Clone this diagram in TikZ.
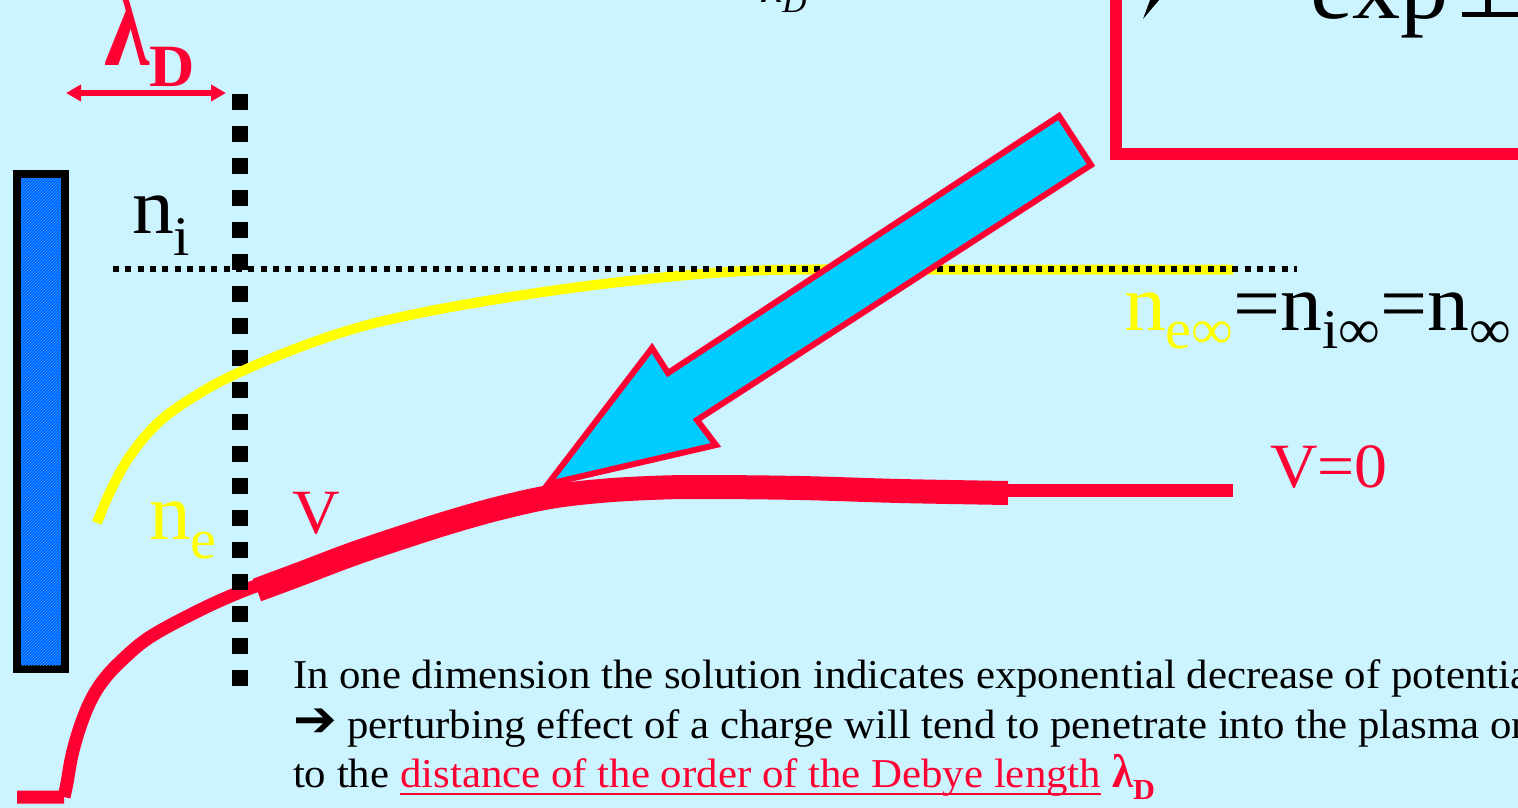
\documentclass[tikz,border=0pt]{standalone}
\usepackage{fontspec}
\setmainfont{Liberation Serif}[FakeStretch=1.045]
\newfontfamily\dejavu{DejaVu Sans}[FakeStretch=1.045]
\usetikzlibrary{arrows.meta,patterns}
\definecolor{bgc}{RGB}{204,244,255}
\definecolor{redc}{RGB}{255,0,51}
\definecolor{yelc}{RGB}{255,255,0}
\definecolor{arrc}{RGB}{0,204,255}
\definecolor{platec}{RGB}{0,90,255}
\definecolor{hatchc}{RGB}{40,170,255}
\newcommand\fsz[1]{\fontsize{#1}{#1}\selectfont}
\newcommand\lowsub[3]{\raisebox{-#2pt}{\fsz{#1}#3}}
\tikzset{
  txt/.style={anchor=base west, inner sep=0pt, outer sep=0pt},
  thinV/.style={redc, line width=13, line cap=butt, line join=round},
  thickV/.style={redc, line width=24, line cap=butt, line join=round},
  yel/.style={yelc, line width=10, line cap=butt},
}
\begin{document}
\begin{tikzpicture}[x=1pt,y=-1pt]
\useasboundingbox (0,0) rectangle (1518,808);
\clip (0,0) rectangle (1518,808);
\fill[bgc] (0,0) rectangle (1518,808);

% plate
\draw[line width=8, fill=platec] (17,174) rectangle (65,669);
\fill[pattern=north east lines, pattern color=hatchc] (21,178) rectangle (61,665);

% box at top right
\draw[redc, line width=12] (1116,-20) -- (1116,154) -- (1540,154);
\node[txt, font=\fsz{92}] (exp) at (1310,19) {exp};
\draw[line width=5] (1462,14.5) -- (1530,14.5);
\draw[line width=6] (1488,-5) -- (1488,15);
\fill (1143,19) -- (1150,0) -- (1159,0) -- cycle;

% top fragment
\node[txt, font=\fsz{45}\itshape] (frag) at (762,3) {λ\lowsub{32}{10}{D}};

% thin V curve
\draw[thinV] (17,797) -- (64,797)
  plot[smooth, tension=0.6] coordinates {(64,797) (67,783) (72,755) (80,727) (90,702) (102,682) (120,662) (150,637) (200,610) (240,592) (265,583)};

% vertical dotted line
\coordinate (vtop) at (240,94);
\coordinate (vbot) at (240,686);
\draw[line width=16, dash pattern=on 16pt off 16pt] (vtop) -- (vbot);

% yellow curve
\draw[yel] plot[smooth, tension=0.6] coordinates {(97,523) (110,492) (130,456) (160,421) (200,393) (240,372) (300,347) (360,327) (420,313) (480,302) (550,291) (620,282) (700,274) (770,270) (850,269.5)} -- (1233,269.5);

% horizontal dotted line
\coordinate (hl) at (113,269);
\coordinate (hr) at (1297,269);
\draw[line width=6, dash pattern=on 6pt off 6.3pt] (hl) -- (hr);

% thick V
\draw[thickV] plot[smooth, tension=0.6] coordinates {(257,590) (300,574) (350,555) (400,538) (450,522) (500,508) (550,497) (600,491) (650,488) (700,487) (800,488) (900,491) (1008,493)};
\draw[thinV] (1000,490) -- (1233,490);

% big arrow
\draw[redc, line width=6, fill=arrc, line join=miter] (1059,116) -- (1091,165) -- (697,420) -- (716,445) -- (548,484) -- (652,348) -- (668,373) -- cycle;

% lambda_D dimension arrow
\coordinate (dl) at (66,93);
\coordinate (dr) at (226,93);
\draw[redc, line width=6, {Triangle[length=15pt,width=16pt]}-{Triangle[length=15pt,width=16pt]}] (dl) -- (dr);
\node[txt, font=\fsz{88}\bfseries, text=redc] (ld) at (104,66) {\scalebox{1}[1.28]{λ}\lowsub{60}{21}{D}};

% labels
\node[txt, font=\fsz{80}] (ni) at (132,233) {n\lowsub{56}{22}{i}};
\node[txt, font=\fsz{80}, text=yelc] (ne) at (149,539) {n\lowsub{56}{19}{e}};
\node[txt, font=\fsz{63}, text=redc] (V) at (292,533) {V};
\node[txt, font=\fsz{63}, text=redc] (V0) at (1270,487) {V=0};
\node[txt, font=\fsz{80}] (ninf) at (1124,330) {\textcolor{yelc}{n\lowsub{56}{18}{e∞}}=n\lowsub{56}{18}{i∞}=n\lowsub{56}{18}{∞}};

% bottom text
\node[txt, font=\fsz{41}] (l1) at (293,688) {In one dimension the solution indicates exponential decrease of potential};
\node[txt, font=\fsz{41}] (l2) at (293,738) {\raisebox{2pt}{\dejavu\bfseries\fsz{50}➔}\ perturbing effect of a charge will tend to penetrate into the plasma only up};
\node[txt, font=\fsz{41}] (l3a) at (293,787) {to the};
\node[txt, font=\fsz{41}, text=redc] (l3b) at ([xshift=11pt]l3a.base east) {distance of the order of the Debye length};
\draw[redc, line width=2] ([yshift=-7pt]l3b.base west) -- ([yshift=-7pt]l3b.base east);
\node[txt, font=\fsz{41}\bfseries, text=redc] (l3c) at ([xshift=11pt]l3b.base east) {\scalebox{1}[1.15]{λ}\lowsub{29}{12}{D}};
\end{tikzpicture}
\end{document}
